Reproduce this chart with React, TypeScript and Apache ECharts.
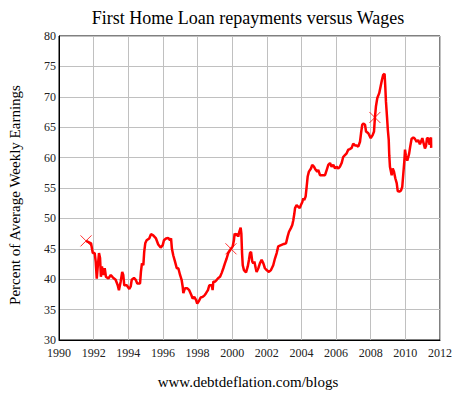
import React, { useEffect, useRef } from "react";
import * as echarts from "echarts";

const years: number[] = [
  1991.56, 1991.85, 1991.95, 1992.06, 1992.12, 1992.18, 1992.23, 1992.31, 1992.37, 1992.42,
  1992.48, 1992.56, 1992.64, 1992.71, 1992.85, 1992.99, 1993.08, 1993.18, 1993.27, 1993.39,
  1993.46, 1993.56, 1993.65, 1993.71, 1993.77, 1993.91, 1994.06, 1994.14, 1994.2, 1994.33,
  1994.43, 1994.52, 1994.68, 1994.73, 1994.79, 1994.87, 1994.92, 1994.98, 1995.06, 1995.21,
  1995.31, 1995.44, 1995.6, 1995.73, 1995.87, 1995.99, 1996.06, 1996.18, 1996.31, 1996.41,
  1996.47, 1996.52, 1996.6, 1996.7, 1996.8, 1996.89, 1996.99, 1997.08, 1997.14, 1997.18,
  1997.27, 1997.41, 1997.52, 1997.64, 1997.72, 1997.81, 1997.91, 1997.98, 1998.08, 1998.18,
  1998.3, 1998.39, 1998.49, 1998.6, 1998.68, 1998.82, 1998.87, 1998.91, 1999.01, 1999.11,
  1999.2, 1999.3, 1999.39, 1999.49, 1999.58, 1999.68, 1999.77, 1999.93, 2000.03, 2000.1,
  2000.14, 2000.22, 2000.29, 2000.35, 2000.41, 2000.49, 2000.53, 2000.57, 2000.61, 2000.68,
  2000.8, 2000.9, 2000.97, 2001.03, 2001.09, 2001.16, 2001.22, 2001.28, 2001.36, 2001.41,
  2001.51, 2001.6, 2001.7, 2001.8, 2001.89, 2001.99, 2002.12, 2002.24, 2002.37, 2002.47,
  2002.57, 2002.66, 2002.82, 2002.99, 2003.11, 2003.2, 2003.28, 2003.39, 2003.47, 2003.53,
  2003.59, 2003.63, 2003.72, 2003.82, 2003.9, 2003.97, 2004.05, 2004.11, 2004.16, 2004.24,
  2004.3, 2004.36, 2004.43, 2004.55, 2004.62, 2004.72, 2004.82, 2004.91, 2004.97, 2005.07,
  2005.2, 2005.36, 2005.46, 2005.55, 2005.65, 2005.74, 2005.84, 2005.94, 2006.03, 2006.13,
  2006.22, 2006.32, 2006.41, 2006.51, 2006.61, 2006.7, 2006.8, 2006.9, 2006.99, 2007.09,
  2007.19, 2007.28, 2007.38, 2007.44, 2007.51, 2007.57, 2007.67, 2007.73, 2007.86, 2008.0,
  2008.11, 2008.19, 2008.24, 2008.3, 2008.38, 2008.49, 2008.57, 2008.65, 2008.72, 2008.8,
  2008.84, 2008.88, 2008.94, 2008.99, 2009.04, 2009.07, 2009.11, 2009.21, 2009.27, 2009.34,
  2009.42, 2009.5, 2009.56, 2009.65, 2009.75, 2009.82, 2009.88, 2009.94, 2009.98, 2010.03,
  2010.11, 2010.17, 2010.22, 2010.28, 2010.36, 2010.46, 2010.55, 2010.65, 2010.74, 2010.84,
  2010.9, 2010.98, 2011.06, 2011.13, 2011.19, 2011.25, 2011.32, 2011.4, 2011.42, 2011.48,
  2011.49,
];

const percents: number[] = [
  46.3, 45.9, 44.3, 44.3, 42.9, 40.1, 41.8, 44.3, 43.5, 40.4,
  42.1, 40.7, 41.8, 40.4, 40.1, 40.7, 40.4, 40.1, 39.9, 39.0,
  38.2, 39.6, 41.2, 40.7, 39.0, 39.0, 38.4, 38.8, 39.9, 40.2,
  39.9, 39.3, 39.3, 41.2, 42.6, 42.3, 44.5, 45.9, 46.4, 46.7,
  47.4, 47.2, 46.7, 45.7, 45.2, 45.6, 46.4, 46.7, 46.8, 46.4,
  46.7, 45.0, 43.9, 42.9, 41.8, 41.8, 40.7, 39.9, 38.8, 37.7,
  38.5, 38.5, 38.2, 37.4, 36.8, 37.1, 36.6, 36.0, 36.4, 37.0,
  37.1, 37.3, 37.7, 38.2, 39.0, 39.0, 38.2, 39.6, 39.6, 39.9,
  40.2, 40.4, 41.0, 41.8, 42.6, 43.4, 44.3, 45.0, 45.4, 46.4,
  47.5, 47.2, 47.5, 47.0, 47.8, 48.5, 47.5, 44.3, 42.3, 41.5,
  41.1, 42.1, 43.2, 44.3, 44.5, 42.9, 42.6, 42.9, 41.8, 41.2,
  41.8, 42.6, 43.2, 42.6, 41.8, 41.5, 41.2, 41.5, 42.3, 43.4,
  44.3, 45.4, 45.6, 45.8, 45.9, 47.0, 47.8, 48.4, 48.9, 49.7,
  50.8, 51.7, 52.2, 51.9, 51.7, 52.2, 52.7, 53.3, 53.0, 53.6,
  55.2, 56.9, 57.7, 58.2, 58.8, 58.5, 58.0, 57.7, 58.0, 57.1,
  57.1, 57.1, 58.0, 58.8, 59.1, 58.5, 58.8, 58.2, 58.5, 58.2,
  58.5, 59.1, 60.1, 60.4, 60.7, 61.3, 61.4, 61.6, 62.3, 62.0,
  62.0, 61.8, 62.6, 64.0, 65.4, 65.6, 65.4, 64.3, 64.0, 63.2,
  63.7, 64.3, 66.5, 68.4, 69.8, 70.6, 71.7, 72.8, 73.6, 73.8,
  71.7, 69.2, 66.7, 64.5, 62.9, 60.4, 58.5, 57.1, 58.2, 57.7,
  56.6, 55.8, 54.5, 54.4, 54.6, 55.2, 57.3, 59.4, 61.3, 60.3,
  59.5, 60.1, 60.7, 61.8, 63.1, 63.3, 63.1, 62.6, 62.9, 62.2,
  62.6, 63.2, 62.3, 61.5, 61.9, 63.2, 63.2, 62.1, 62.9, 63.3,
  61.6,
];

const markerYears: number[] = [1991.56, 1999.93, 2008.24];
const markerValues: number[] = [46.3, 45.0, 66.6];

const titleText = "First Home Loan repayments versus Wages";
const yAxisTitle = "Percent of Average Weekly Earnings";
const footerText = "www.debtdeflation.com/blogs";

const SERIF = "Liberation Serif";

export default function App() {
  const ref = useRef<HTMLDivElement>(null);

  useEffect(() => {
    document.body.style.margin = "0";
    if (!ref.current) return;
    const chart = echarts.init(ref.current, undefined, { renderer: "svg" });
    const lineData = years.map((y, i) => [y, percents[i]]);
    const markData = markerYears.map((y, i) => [y, markerValues[i]]);
    chart.setOption({
      animation: false,
      backgroundColor: "#ffffff",
      textStyle: { fontFamily: SERIF },
      grid: {
        left: 59,
        right: 21,
        top: 36,
        bottom: 53,
        show: true,
        borderColor: "#000",
        borderWidth: 1,
        backgroundColor: "transparent",
      },
      xAxis: {
        type: "value",
        min: 1990,
        max: 2012,
        interval: 2,
        axisLine: { show: true, lineStyle: { color: "#000", width: 1 } },
        axisTick: { show: false },
        splitLine: { show: true, lineStyle: { color: "#c0c0c0", width: 1 } },
        axisLabel: {
          formatter: (v: number) => String(v),
          fontFamily: SERIF,
          fontSize: 12,
          color: "#222",
          margin: 7,
        },
      },
      yAxis: {
        type: "value",
        min: 30,
        max: 80,
        interval: 5,
        axisLine: { show: true, lineStyle: { color: "#000", width: 1 } },
        axisTick: { show: false },
        splitLine: { show: true, lineStyle: { color: "#c0c0c0", width: 1 } },
        axisLabel: {
          fontFamily: SERIF,
          fontSize: 12,
          color: "#222",
          margin: 3,
          formatter: (v: number) => String(v),
        },
      },
      graphic: [
        {
          type: "text",
          x: 248,
          y: 18,
          style: {
            text: titleText,
            fontFamily: SERIF,
            fontSize: 18,
            fill: "#000",
            align: "center",
            verticalAlign: "middle",
          },
        },
        {
          type: "text",
          x: 15,
          y: 195,
          rotation: Math.PI / 2,
          style: {
            text: yAxisTitle,
            fontFamily: SERIF,
            fontSize: 15,
            fill: "#000",
            align: "center",
            verticalAlign: "middle",
          },
        },
        {
          type: "text",
          x: 248,
          y: 382,
          style: {
            text: footerText,
            fontFamily: SERIF,
            fontSize: 15,
            fill: "#000",
            align: "center",
            verticalAlign: "middle",
          },
        },
      ],
      series: [
        {
          type: "line",
          data: lineData,
          showSymbol: false,
          symbol: "none",
          lineStyle: { color: "#ff0000", width: 2.5 },
          z: 2,
        },
        {
          type: "scatter",
          data: markData,
          symbol: "path://M0,0L10,10M10,0L0,10",
          symbolSize: 11,
          itemStyle: { color: "none", borderColor: "#ff0000", borderWidth: 1 },
          z: 3,
        },
      ],
    });
    return () => chart.dispose();
  }, []);

  return <div ref={ref} style={{ width: 461, height: 393 }} />;
}
